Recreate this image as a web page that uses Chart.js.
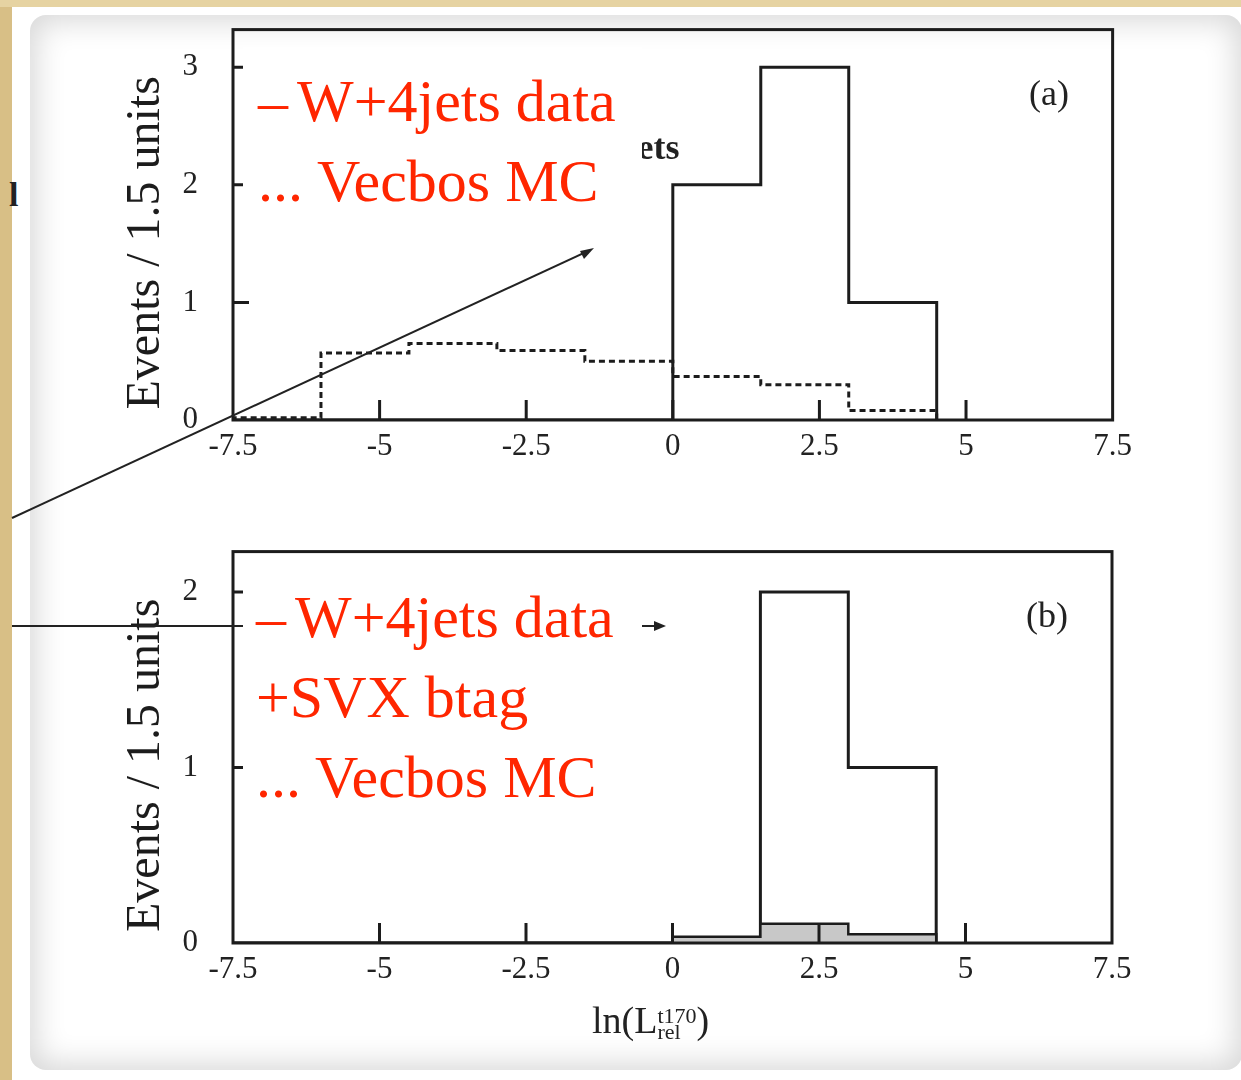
<!DOCTYPE html>
<html>
<head>
<meta charset="utf-8">
<script src="https://cdn.jsdelivr.net/npm/chart.js@4.4.1/dist/chart.umd.min.js"></script>
<style>
  html, body { margin: 0; padding: 0; }
  body { width: 1241px; height: 1080px; position: relative; overflow: hidden; background: #fff; }
  .tan-left { position: absolute; left: 0; top: 0; width: 12px; height: 1080px; background: #d8bf86; }
  .tan-top { position: absolute; left: 0; top: 0; width: 1241px; height: 7px; background: #e6d3a2; }
  .paper { position: absolute; left: 30px; top: 15px; width: 1212px; height: 1055px; background: #fff;
           border-radius: 16px; box-shadow: inset 0 0 30px 6px rgba(0,0,0,0.16); }
  canvas { position: absolute; }
  .ann { position: absolute; font-family: "Liberation Serif", serif; color: #222; white-space: nowrap; }
  .box { position: absolute; background: #fff; }
  .red { position: absolute; font-family: "Liberation Serif", serif; color: #ff2600; font-size: 60px;
         line-height: 80px; white-space: nowrap; }
  svg { position: absolute; left: 0; top: 0; }
</style>
</head>
<body>
<div class="tan-left"></div>
<div class="tan-top"></div>
<div class="paper"></div>

<canvas id="topChart" width="1030" height="504" style="left:110px;top:-24px;width:1030px;height:504px"></canvas>
<canvas id="bottomChart" width="1030" height="507" style="left:110px;top:498px;width:1030px;height:507px"></canvas>

<div class="ann" style="left:1029px;top:72px;font-size:36px">(a)</div>
<div class="ann" style="left:1026px;top:594px;font-size:36px">(b)</div>
<div class="ann" style="left:551px;top:126px;font-size:36px;font-weight:bold">W+4jets</div>
<div class="ann" style="left:9px;top:176px;font-size:34px;font-weight:bold">l</div>
<div class="ann" style="left:592px;top:998px;font-size:38px">ln(L<span style="display:inline-block;vertical-align:-6px;line-height:16px;font-size:22px;text-align:left"><span style="display:block">t170</span><span style="display:block">rel</span></span>)</div>

<svg width="1241" height="1080">
  <line x1="12" y1="518" x2="586" y2="252" stroke="#222" stroke-width="2"/>
  <polygon points="594,248 580,251 584,259" fill="#222"/>
  <line x1="12" y1="626" x2="658" y2="626" stroke="#222" stroke-width="2"/>
  <polygon points="666,626 654,621 654,631" fill="#222"/>
</svg>

<div class="box" style="left:243px;top:47px;width:399px;height:181px"></div>
<div class="box" style="left:243px;top:575px;width:399px;height:255px"></div>
<div class="red" style="left:258px;top:61px"><span style="letter-spacing:9px">–</span>W+4jets data<br>... Vecbos MC</div>
<div class="red" style="left:256px;top:577px"><span style="letter-spacing:9px">–</span>W+4jets data<br>+SVX btag<br>... Vecbos MC</div>

<script>
// bin edges of the 1.5-unit histograms
const binEdges = [-7.5, -6, -4.5, -3, -1.5, 0, 1.5, 3, 4.5];
// (a) W+4jets
const topData = [0, 0, 0, 0, 0, 2, 3, 1];
const topMC = [0.02, 0.57, 0.65, 0.59, 0.50, 0.37, 0.30, 0.08];
// (b) W+4jets + SVX btag
const bottomData = [0, 0, 0, 0, 0, 0, 2, 1];
const bottomMC = [0, 0, 0, 0, 0, 0.035, 0.11, 0.05];

const xTicks = [-7.5, -5, -2.5, 0, 2.5, 5, 7.5];
const topYTicks = [0, 1, 2, 3];
const bottomYTicks = [0, 1, 2];

const serif = 'Liberation Serif';

function stepPoints(edges, vals) {
    let pts = [{x: edges[0], y: 0}];
    vals.forEach(function (v, i) {
        pts.push({x: edges[i], y: v});
    });
    pts.push({x: edges[edges.length - 1], y: 0});
    return pts;
}

// frame round the plot and the inward tick marks
const framePlugin = {
    id: 'frame',
    afterDraw(chart) {
        const ctx = chart.ctx;
        const a = chart.chartArea;
        const x = chart.scales.x, y = chart.scales.y;
        ctx.save();
        ctx.strokeStyle = '#1c1c1c';
        ctx.lineWidth = 3;
        ctx.strokeRect(a.left, a.top, a.right - a.left, a.bottom - a.top);
        ctx.beginPath();
        x.ticks.forEach(function (t) {
            const px = x.getPixelForValue(t.value);
            if (px > a.left + 3 && px < a.right - 3) {
                ctx.moveTo(px, a.bottom);
                ctx.lineTo(px, a.bottom - 20);
            }
        });
        y.ticks.forEach(function (t) {
            const py = y.getPixelForValue(t.value);
            if (py < a.bottom - 3) {
                ctx.moveTo(a.left, py);
                ctx.lineTo(a.left + 16, py);
            }
        });
        ctx.stroke();
        ctx.restore();
    }
};

function makeConfig(datasets, yMax, yTicks, padRight, xHeight) {
    return {
        type: 'line',
        data: {datasets: datasets},
        options: {
            responsive: false,
            animation: false,
            layout: {padding: {top: 0, right: padRight, left: 0, bottom: 0}, autoPadding: false},
            plugins: {legend: {display: false}, tooltip: {enabled: false}},
            elements: {point: {radius: 0}},
            scales: {
                x: {
                    type: 'linear',
                    min: -7.5,
                    max: 7.5,
                    afterBuildTicks: function (scale) {
                        scale.ticks = xTicks.map(function (v) { return {value: v}; });
                    },
                    afterFit: function (scale) { scale.height = xHeight; },
                    grid: {display: false, drawTicks: false},
                    border: {display: false},
                    ticks: {
                        padding: 8,
                        color: '#222',
                        maxRotation: 0,
                        autoSkip: false,
                        font: {family: serif, size: 31}
                    }
                },
                y: {
                    min: 0,
                    max: yMax,
                    afterBuildTicks: function (scale) {
                        scale.ticks = yTicks.map(function (v) { return {value: v}; });
                    },
                    afterFit: function (scale) { scale.width = 123; },
                    grid: {display: false, drawTicks: false},
                    border: {display: false},
                    ticks: {
                        padding: 35,
                        color: '#222',
                        font: {family: serif, size: 31}
                    },
                    title: {
                        display: true,
                        text: 'Events / 1.5 units\u00a0\u00a0\u00a0',
                        color: '#1c1c1c',
                        font: {family: serif, size: 48},
                        padding: {top: 8, bottom: 0}
                    }
                }
            }
        },
        plugins: [framePlugin]
    };
}

const topChart = new Chart(document.getElementById('topChart'), makeConfig([
    {
        label: 'Vecbos MC',
        data: stepPoints(binEdges, topMC),
        stepped: 'before',
        borderColor: '#1c1c1c',
        borderWidth: 3,
        borderDash: [6, 4],
        fill: false
    },
    {
        label: 'W+4jets data',
        data: stepPoints(binEdges, topData),
        stepped: 'before',
        borderColor: '#1c1c1c',
        borderWidth: 3,
        fill: false
    }
], 3.32, topYTicks, 25, 60));

const bottomChart = new Chart(document.getElementById('bottomChart'), makeConfig([
    {
        label: 'Vecbos MC',
        data: stepPoints(binEdges, bottomMC),
        stepped: 'before',
        borderColor: '#1c1c1c',
        borderWidth: 2.5,
        backgroundColor: '#c8c8c8',
        fill: 'origin'
    },
    {
        label: 'W+4jets data + SVX btag',
        data: stepPoints(binEdges, bottomData),
        stepped: 'before',
        borderColor: '#1c1c1c',
        borderWidth: 3,
        fill: false
    }
], 2.23, bottomYTicks, 28, 62));
</script>
</body>
</html>
